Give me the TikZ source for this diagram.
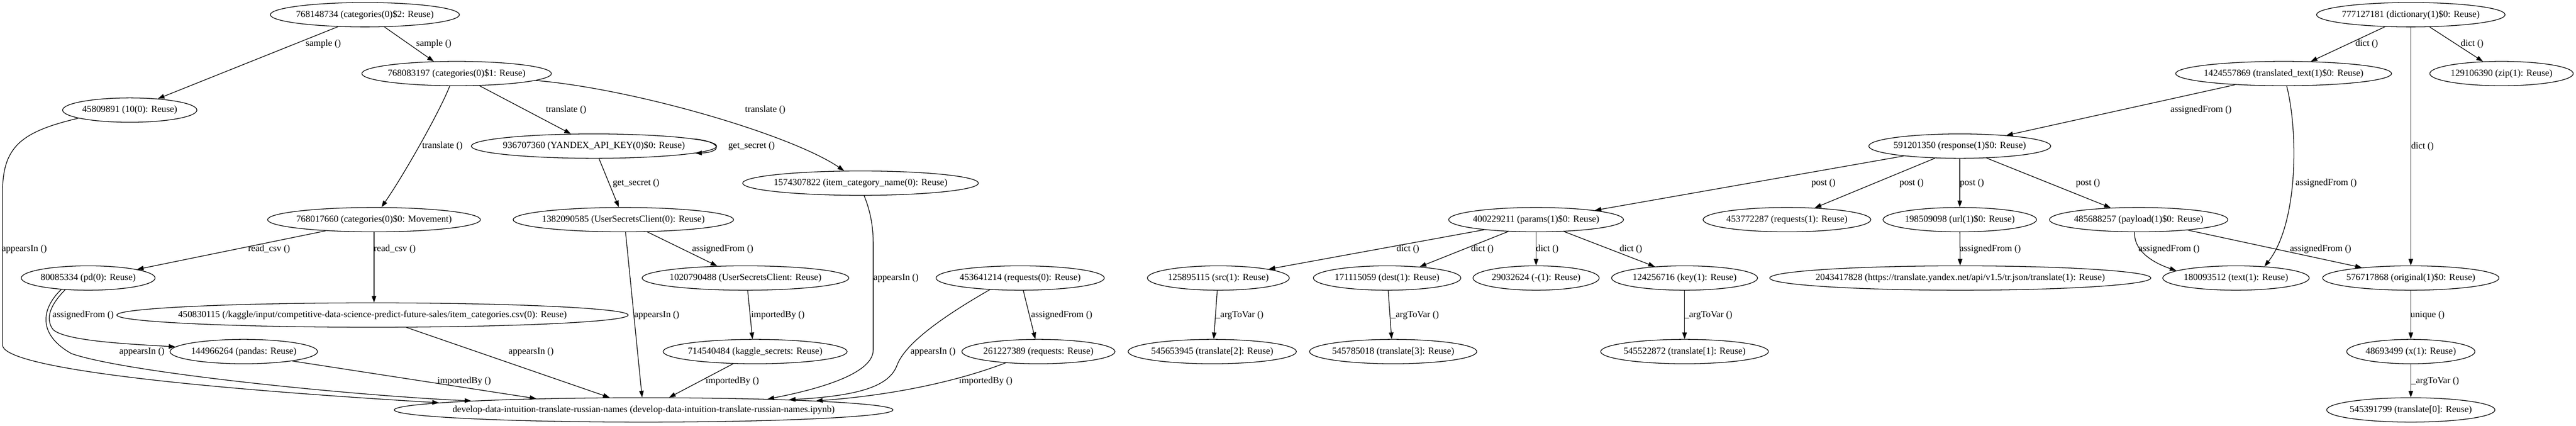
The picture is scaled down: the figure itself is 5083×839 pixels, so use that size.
\documentclass[tikz,border=0pt]{standalone}
\usepackage{fontspec}
\setmainfont{Liberation Serif}
\usetikzlibrary{shapes.geometric,arrows.meta}
\newcommand\gvfont{\fontsize{18.5}{22}\selectfont}
\newcommand\zb[1]{\makebox[0pt]{#1}}
\tikzset{
  gv/.style={ellipse, draw, line width=1.3pt, inner sep=0pt, minimum height=48pt, font=\gvfont},
  lbl/.style={inner sep=0pt, font=\gvfont},
  conn/.style={line width=1.3pt, -{Triangle[length=13pt,width=9pt]}},
}
\begin{document}
\begin{tikzpicture}[x=1pt,y=-1pt]
\useasboundingbox[fill=white] (0,0) rectangle (5083,839);
% nodes
\node[gv, minimum width=373pt] (cat2) at (720,29) {\zb{768148734 (categories(0)\$2: Reuse)}};
\node[gv, minimum width=372pt] (dictn) at (4757,29) {\zb{777127181 (dictionary(1)\$0: Reuse)}};
\node[gv, minimum width=374pt] (cat1) at (901,145) {\zb{768083197 (categories(0)\$1: Reuse)}};
\node[gv, minimum width=426pt] (ttext) at (4506,145) {\zb{1424557869 (translated\_text(1)\$0: Reuse)}};
\node[gv, minimum width=283pt] (zipn) at (4936,145) {\zb{129106390 (zip(1): Reuse)}};
\node[gv, minimum width=265pt] (ten) at (256,217) {\zb{45809891 (10(0): Reuse)}};
\node[gv, minimum width=484pt] (yak) at (1172,288) {\zb{936707360 (YANDEX\_API\_KEY(0)\$0: Reuse)}};
\node[gv, minimum width=359pt] (resp) at (3867,288) {\zb{591201350 (response(1)\$0: Reuse)}};
\node[gv, minimum width=465pt] (icn) at (1698,361) {\zb{1574307822 (item\_category\_name(0): Reuse)}};
\node[gv, minimum width=420pt] (cat0) at (738,433) {\zb{768017660 (categories(0)\$0: Movement)}};
\node[gv, minimum width=435pt] (usc0) at (1230,433) {\zb{1382090585 (UserSecretsClient(0): Reuse)}};
\node[gv, minimum width=345pt] (params) at (3031,433) {\zb{400229211 (params(1)\$0: Reuse)}};
\node[gv, minimum width=331pt] (req1) at (3526,433) {\zb{453772287 (requests(1): Reuse)}};
\node[gv, minimum width=303pt] (url) at (3867,433) {\zb{198509098 (url(1)\$0: Reuse)}};
\node[gv, minimum width=352pt] (payload) at (4220,433) {\zb{485688257 (payload(1)\$0: Reuse)}};
\node[gv, minimum width=264pt] (pd) at (174,548) {\zb{80085334 (pd(0): Reuse)}};
\node[gv, minimum width=408pt] (usc) at (1471,548) {\zb{1020790488 (UserSecretsClient: Reuse)}};
\node[gv, minimum width=332pt] (req0) at (2013,548) {\zb{453641214 (requests(0): Reuse)}};
\node[gv, minimum width=280pt] (src) at (2404,548) {\zb{125895115 (src(1): Reuse)}};
\node[gv, minimum width=291pt] (dest) at (2737,548) {\zb{171115059 (dest(1): Reuse)}};
\node[gv, minimum width=249pt] (minus) at (3031,548) {\zb{29032624 (-(1): Reuse)}};
\node[gv, minimum width=288pt] (keyn) at (3324,548) {\zb{124256716 (key(1): Reuse)}};
\node[gv, minimum width=752pt] (https) at (3868,548) {\zb{2043417828 (https://translate.yandex.net/api/v1.5/tr.json/translate(1): Reuse)}};
\node[gv, minimum width=289pt] (txt) at (4412,548) {\zb{180093512 (text(1): Reuse)}};
\node[gv, minimum width=348pt] (orig) at (4757,548) {\zb{576717868 (original(1)\$0: Reuse)}};
\node[gv, minimum width=1009pt] (csv) at (735,621) {\zb{450830115 (/kaggle/input/competitive-data-science-predict-future-sales/item\_categories.csv(0): Reuse)}};
\node[gv, minimum width=291pt] (pandas) at (481,693) {\zb{144966264 (pandas: Reuse)}};
\node[gv, minimum width=363pt] (kag) at (1490,693) {\zb{714540484 (kaggle\_secrets: Reuse)}};
\node[gv, minimum width=302pt] (req) at (2049,693) {\zb{261227389 (requests: Reuse)}};
\node[gv, minimum width=332pt] (trtwo) at (2392,693) {\zb{545653945 (translate[2]: Reuse)}};
\node[gv, minimum width=330pt] (trthree) at (2749,693) {\zb{545785018 (translate[3]: Reuse)}};
\node[gv, minimum width=331pt] (trone) at (3324,693) {\zb{545522872 (translate[1]: Reuse)}};
\node[gv, minimum width=253pt] (xone) at (4757,693) {\zb{48693499 (x(1): Reuse)}};
\node[gv, minimum width=984pt] (dev) at (1270,808) {\zb{develop-data-intuition-translate-russian-names (develop-data-intuition-translate-russian-names.ipynb)}};
\node[gv, minimum width=332pt] (trzero) at (4757,808) {\zb{545391799 (translate[0]: Reuse)}};
% edges
\draw[conn] (cat2.204) -- (ten.22);
\draw[conn] (cat2.-32) -- (cat1.152);
\draw[conn] (cat1.241) .. controls (870,215) and (800,340) .. (cat0.59);
\draw[conn] (cat1.-28) -- (yak.152);
\draw[conn] (cat1.-5) .. controls (1250,175) and (1560,265) .. (icn.143);
\draw[conn] (yak.4) .. controls (1425,280) and (1425,300) .. (yak.-4);
\draw[conn] (yak.-68) -- (usc0.110);
\draw[conn] (cat0.193) -- (pd.10);
\draw[conn] (cat0.south) -- (cat0.south |- csv.north);
\draw[conn] (pd.207) .. controls (100,600) and (88,628) .. (105,650) .. controls (130,672) and (250,678) .. (pandas.176);
\draw[conn] (pd.203) .. controls (80,610) and (75,660) .. (141,697) .. controls (250,735) and (700,780) .. (dev.177);
\draw[conn] (ten.189) .. controls (40,260) and (5,290) .. (5,380) -- (5,680) .. controls (5,720) and (300,760) .. (dev.178);
\draw[conn] (pandas.-11) -- (dev.174);
\draw[conn] (csv.-20) -- (dev.160);
\draw[conn] (usc0.-80) -- (dev.97);
\draw[conn] (usc0.-27) -- (usc.157);
\draw[conn] (usc.-80) -- (kag.102);
\draw[conn] (kag.209) -- (dev.26);
\draw[conn] (icn.-74) .. controls (1715,410) and (1723,440) .. (1723,480) -- (1723,690) .. controls (1723,740) and (1600,770) .. (dev.5);
\draw[conn] (req0.201) .. controls (1850,630) and (1785,680) .. (1770,720) .. controls (1755,760) and (1700,780) .. (dev.4);
\draw[conn] (req.199) .. controls (1880,755) and (1750,780) .. (dev.3);
\draw[conn] (req0.-76) -- (req.104);
\draw[conn] (src.-95) -- (trtwo.83);
\draw[conn] (resp.190) -- (params.9);
\draw[conn] (resp.206) -- (req1.23);
\draw[conn] (resp) -- (url);
\draw[conn] (resp.-24) -- (payload.157);
\draw[conn] (url) -- (https);
\draw[conn] (payload.252) .. controls (4210,490) and (4240,515) .. (txt.173);
\draw[conn] (payload.-12) -- (orig.168);
\draw[conn] (ttext.193) -- (resp.13);
\draw[conn] (ttext.-76) .. controls (4535,260) and (4535,440) .. (txt.22);
\draw[conn] (dictn.205) -- (ttext.24);
\draw[conn] (dictn.-33) -- (zipn.147);
\draw[conn] (dictn) -- (orig);
\draw[conn] (orig) -- (xone);
\draw[conn] (xone) -- (trzero);
\draw[conn] (params.191) -- (src.10);
\draw[conn] (params.203) -- (dest.19);
\draw[conn] (params) -- (minus);
\draw[conn] (params.-23) -- (keyn.159);
\draw[conn] (dest.-85) -- (trthree.97);
\draw[conn] (keyn) -- (trone);
% edge labels
\node[lbl] (l1) at (638,87) {sample ()};
\node[lbl] (l2) at (856,87) {sample ()};
\node[lbl] (l3) at (873,288) {translate ()};
\node[lbl] (l4) at (1117,217) {translate ()};
\node[lbl] (l5) at (1510,217) {translate ()};
\node[lbl] (l6) at (1483,288) {get\_secret ()};
\node[lbl] (l7) at (1255,361) {get\_secret ()};
\node[lbl] (l8) at (531,491) {read\_csv ()};
\node[lbl] (l9) at (779,491) {read\_csv ()};
\node[lbl] (l10) at (164,621) {assignedFrom ()};
\node[lbl] (l11) at (280,693) {appearsIn ()};
\node[lbl] (l12) at (48,491) {appearsIn ()};
\node[lbl] (l13) at (916,751) {importedBy ()};
\node[lbl] (l14) at (1048,693) {appearsIn ()};
\node[lbl] (l15) at (1296,621) {appearsIn ()};
\node[lbl] (l16) at (1426,491) {assignedFrom ()};
\node[lbl] (l17) at (1535,621) {importedBy ()};
\node[lbl] (l18) at (1445,751) {importedBy ()};
\node[lbl] (l19) at (1768,548) {appearsIn ()};
\node[lbl] (l20) at (1841,693) {appearsIn ()};
\node[lbl] (l21) at (1945,751) {importedBy ()};
\node[lbl] (l22) at (2095,621) {assignedFrom ()};
\node[lbl] (l23) at (2446,621) {\_argToVar ()};
\node[lbl] (l24) at (3598,361) {post ()};
\node[lbl] (l25) at (3772,361) {post ()};
\node[lbl] (l26) at (3891,361) {post ()};
\node[lbl] (l27) at (4120,361) {post ()};
\node[lbl] (l28) at (3927,491) {assignedFrom ()};
\node[lbl] (l29) at (4280,491) {assignedFrom ()};
\node[lbl] (l30) at (4579,491) {assignedFrom ()};
\node[lbl] (l31) at (4343,217) {assignedFrom ()};
\node[lbl] (l32) at (4590,361) {assignedFrom ()};
\node[lbl] (l33) at (4670,87) {dict ()};
\node[lbl] (l34) at (4878,87) {dict ()};
\node[lbl] (l35) at (4780,289) {dict ()};
\node[lbl] (l36) at (4790,621) {unique ()};
\node[lbl] (l37) at (4805,751) {\_argToVar ()};
\node[lbl] (l38) at (2778,491) {dict ()};
\node[lbl] (l39) at (2925,491) {dict ()};
\node[lbl] (l40) at (3053,491) {dict ()};
\node[lbl] (l41) at (3218,491) {dict ()};
\node[lbl] (l42) at (2792,621) {\_argToVar ()};
\node[lbl] (l43) at (3371,621) {\_argToVar ()};
\end{tikzpicture}
\end{document}
